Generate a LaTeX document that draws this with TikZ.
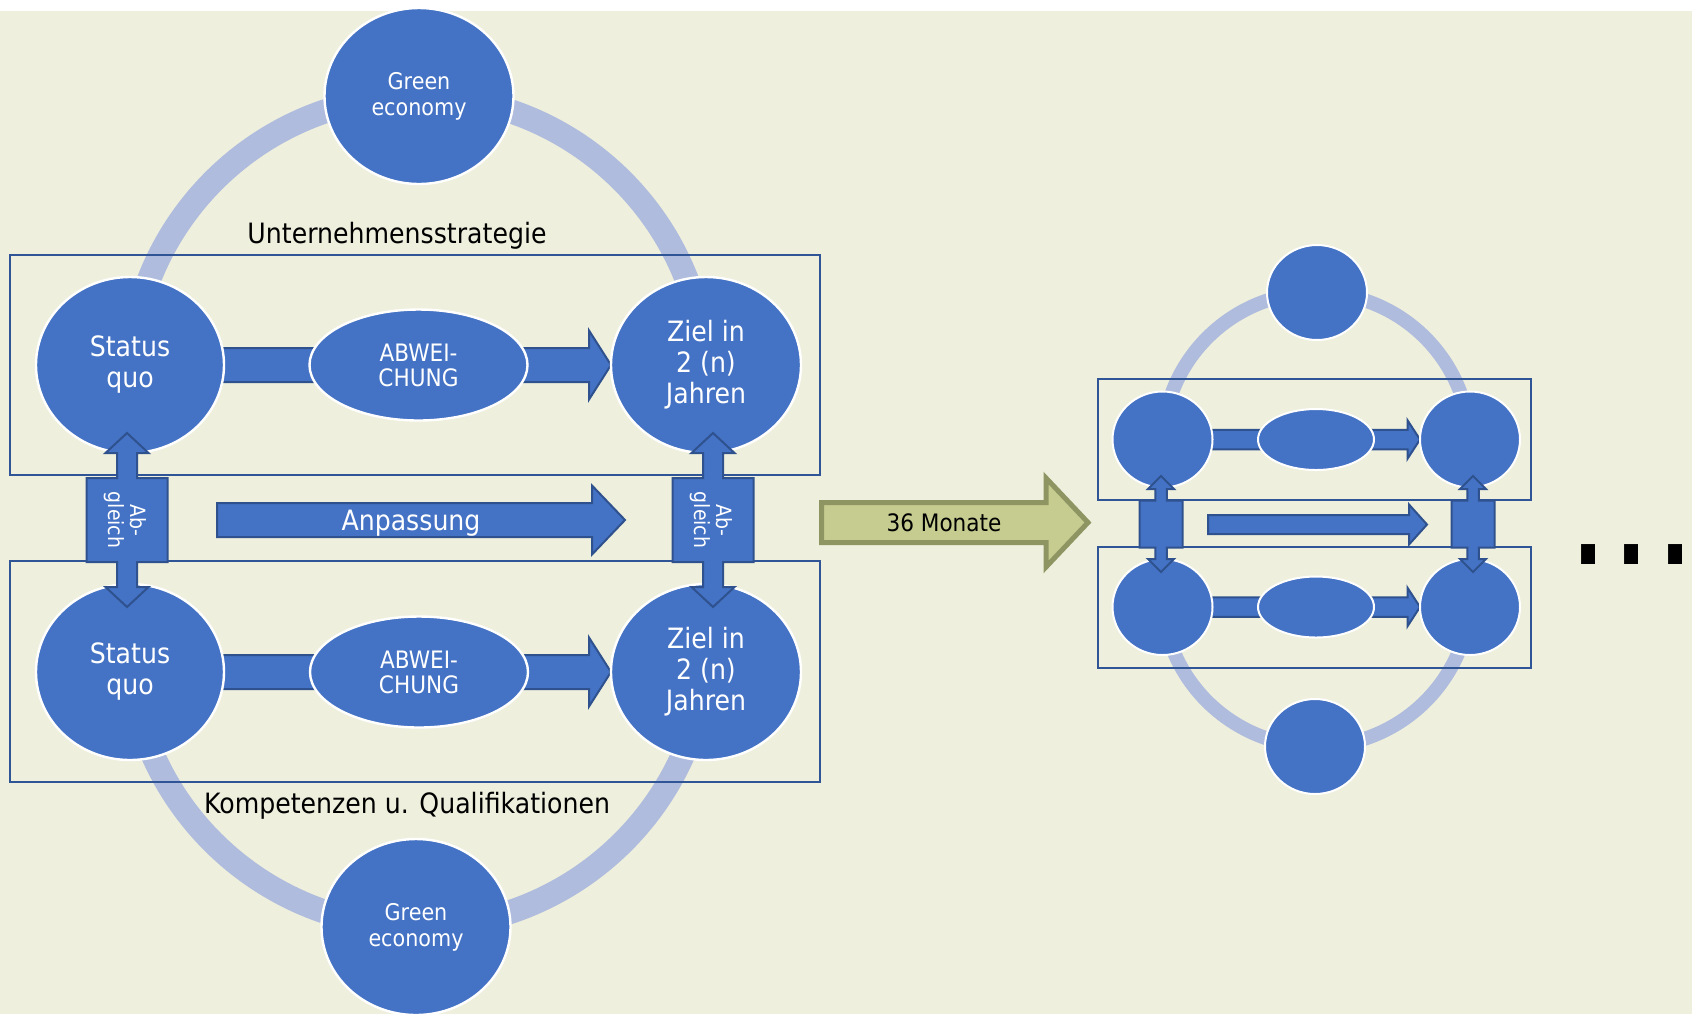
\documentclass[tikz,border=0pt]{standalone}
\usepackage{fontspec}
\setmainfont{DejaVu Sans}[FakeStretch=0.9]
\usetikzlibrary{shapes.geometric,calc}
\definecolor{bgc}{RGB}{238,239,220}
\definecolor{myblue}{RGB}{68,114,196}
\definecolor{boxblue}{RGB}{47,85,151}
\definecolor{arrline}{RGB}{47,82,143}
\definecolor{bandc}{RGB}{175,188,222}
\definecolor{olivef}{RGB}{198,204,143}
\definecolor{olivel}{RGB}{143,149,98}
\pgfdeclarelayer{bgl}\pgfdeclarelayer{arcl}\pgfdeclarelayer{boxl}\pgfdeclarelayer{arrl}\pgfdeclarelayer{frontl}
\pgfsetlayers{bgl,arcl,boxl,arrl,main,frontl}
% block arrow: #1 start, #2 tip, #3 shaft half, #4 head half, #5 head length, #6 style
\newcommand{\harrow}[6]{\draw[#6] ($(#1)+(0,-#3)$) -- ($(#2)+(-#5,-#3)$) -- ($(#2)+(-#5,-#4)$) -- (#2) -- ($(#2)+(-#5,#4)$) -- ($(#2)+(-#5,#3)$) -- ($(#1)+(0,#3)$) -- cycle;}
% up-down arrow callout: #1 centre, #2 tip dist, #3 head len, #4 shaft half, #5 head half, #6 box half w, #7 box half h, #8 style
\newcommand{\udarrow}[8]{\draw[#8,shift={(#1)}] (0,-#2) -- (#5,{-#2+#3}) -- (#4,{-#2+#3}) -- (#4,-#7) -- (#6,-#7) -- (#6,#7) -- (#4,#7) -- (#4,{#2-#3}) -- (#5,{#2-#3}) -- (0,#2) -- (-#5,{#2-#3}) -- (-#4,{#2-#3}) -- (-#4,#7) -- (-#6,#7) -- (-#6,-#7) -- (-#4,-#7) -- (-#4,{-#2+#3}) -- (-#5,{-#2+#3}) -- cycle;}
\begin{document}
\begin{tikzpicture}[x=0.5pt,y=-0.5pt,
  ell/.style={ellipse,fill=myblue,draw=white,line width=1.2pt,inner sep=0pt,outer sep=0pt,text=white,align=center},
  sell/.style={ell,line width=1pt},
  band/.style={draw=bandc,line width=12pt},
  bandS/.style={draw=bandc,line width=7pt},
  frame/.style={draw=boxblue,line width=1pt},
  barrow/.style={fill=myblue,draw=arrline,line width=1pt,line join=miter},
  oarrow/.style={fill=olivef,draw=olivel,line width=2.5pt,line join=miter},
  bigtxt/.style={font=\fontsize{14}{15.5}\selectfont},
  greentxt/.style={font=\fontsize{11.5}{13}\selectfont},
  abwtxt/.style={font=\fontsize{12}{12.5}\selectfont},
  headtxt/.style={font=\fontsize{14}{16}\selectfont,text=black,anchor=base},
  agtxt/.style={font=\fontsize{10.5}{11}\selectfont,text=white,align=center,rotate=-90,inner sep=0pt}
]
\useasboundingbox (0,0) rectangle (1692,1014);
\begin{pgfonlayer}{bgl}
\fill[white] (0,0) rectangle (1692,1014);
\fill[bgc] (0,11) rectangle (1692,1014);
\end{pgfonlayer}

% ---------- left diagram: ellipses ----------
\node[ell,greentxt,minimum width=94.5pt,minimum height=88pt] (ge1) at (419,96) {Green\\economy};
\node[ell,bigtxt,minimum width=94pt,minimum height=88pt] (sq1) at (130,365) {Status\\quo};
\node[ell,abwtxt,minimum width=109pt,minimum height=55.5pt] (ab1) at (418.5,365) {ABWEI-\\CHUNG};
\node[ell,bigtxt,minimum width=95pt,minimum height=88pt] (zl1) at (706,365) {Ziel in\\2 (n)\\Jahren};
\node[ell,bigtxt,minimum width=94pt,minimum height=88pt] (sq2) at (130,672) {Status\\quo};
\node[ell,abwtxt,minimum width=109pt,minimum height=55.5pt] (ab2) at (419,672) {ABWEI-\\CHUNG};
\node[ell,bigtxt,minimum width=95pt,minimum height=88pt] (zl2) at (706,672) {Ziel in\\2 (n)\\Jahren};
\node[ell,greentxt,minimum width=94.5pt,minimum height=88pt] (ge2) at (416,927) {Green\\economy};

% ---------- right diagram: ellipses ----------
\node[sell,minimum width=50pt,minimum height=47.5pt] (tt) at (1317,292.5) {};
\node[sell,minimum width=50pt,minimum height=48pt] (tl) at (1162.5,439.5) {};
\node[sell,minimum width=58pt,minimum height=30.5pt] (tm) at (1316,439.5) {};
\node[sell,minimum width=50pt,minimum height=48pt] (tr) at (1470,439.5) {};
\node[sell,minimum width=50pt,minimum height=48pt] (bl) at (1162.5,607) {};
\node[sell,minimum width=58pt,minimum height=30.5pt] (bm) at (1316,607) {};
\node[sell,minimum width=50pt,minimum height=48pt] (br) at (1470,607) {};
\node[sell,minimum width=50pt,minimum height=47.5pt] (bb) at (1315,746.5) {};

% ---------- arcs ----------
\begin{pgfonlayer}{arcl}
\draw[band] (sq1.center) arc[start angle=183.9,end angle=356.1,radius=288.6];
\draw[band] (sq2.center) arc[start angle=173.05,end angle=6.95,radius=290.1];
\draw[bandS] (tl.center) arc[start angle=182.57,end angle=357.43,radius=153.9];
\draw[bandS] (bl.center) arc[start angle=174.43,end angle=5.57,radius=154.5];
\end{pgfonlayer}

% ---------- frames ----------
\begin{pgfonlayer}{boxl}
\draw[frame] (9.7,255) rectangle (820,475);
\draw[frame] (9.7,560.5) rectangle (820,782);
\draw[frame] (1097.5,379) rectangle (1531,500);
\draw[frame] (1097.5,547) rectangle (1531,668);
\end{pgfonlayer}

% ---------- row arrows ----------
\begin{pgfonlayer}{arrl}
\harrow{sq1.center}{zl1.west}{17}{34.5}{22}{barrow}
\harrow{sq2.center}{zl2.west}{17}{34.5}{22}{barrow}
\harrow{tl.center}{tr.west}{9.75}{19.25}{12.5}{barrow}
\harrow{bl.center}{br.west}{9.75}{19.25}{12.5}{barrow}
\end{pgfonlayer}

% ---------- free arrows ----------
\coordinate (anpS) at (217,520);
\coordinate (anpT) at (625,520);
\harrow{anpS}{anpT}{17}{34.5}{33}{barrow}
\node[font=\fontsize{14}{16}\selectfont,text=white,anchor=base] (anp) at (411,530) {Anpassung};

\coordinate (rmS) at (1208,524.5);
\coordinate (rmT) at (1427,524.5);
\harrow{rmS}{rmT}{9.5}{20}{18}{barrow}

\coordinate (monS) at (821.5,522.5);
\coordinate (monT) at (1088,522.5);
\harrow{monS}{monT}{20}{44.5}{42}{oarrow}
\node[font=\fontsize{12}{14}\selectfont,text=black,anchor=base] (mon) at (944,531) {36 Monate};

% ---------- Abgleich arrows ----------
\coordinate (ag1) at (127,520);
\coordinate (ag2) at (713,520);
\coordinate (ag3) at (1161,524);
\coordinate (ag4) at (1473,524);
\begin{pgfonlayer}{frontl}
\udarrow{ag1}{87}{20}{10}{21.5}{40.5}{42}{barrow}
\udarrow{ag2}{87}{20}{10}{21.5}{40.5}{42}{barrow}
\udarrow{ag3}{48}{13}{5.75}{13}{21.5}{23.5}{barrow}
\udarrow{ag4}{48}{13}{5.75}{13}{21.5}{23.5}{barrow}
\node[agtxt] (agt1) at (125,520) {Ab-\\gleich};
\node[agtxt] (agt2) at (711,520) {Ab-\\gleich};
\end{pgfonlayer}

% ---------- headings ----------
\node[headtxt] (ustr) at (397,243) {Unternehmensstrategie};
\node[headtxt] (komp) at (407,813) {Kompetenzen u. Qualifikationen};

% ---------- continuation dots ----------
\node[anchor=base,inner sep=0pt,font=\bfseries\fontsize{44}{44}\selectfont,text=black] (dots) at (1632,564) {\scalebox{1}[1.2]{.\hspace{6.75pt}.\hspace{6.75pt}.}};
\end{tikzpicture}
\end{document}
